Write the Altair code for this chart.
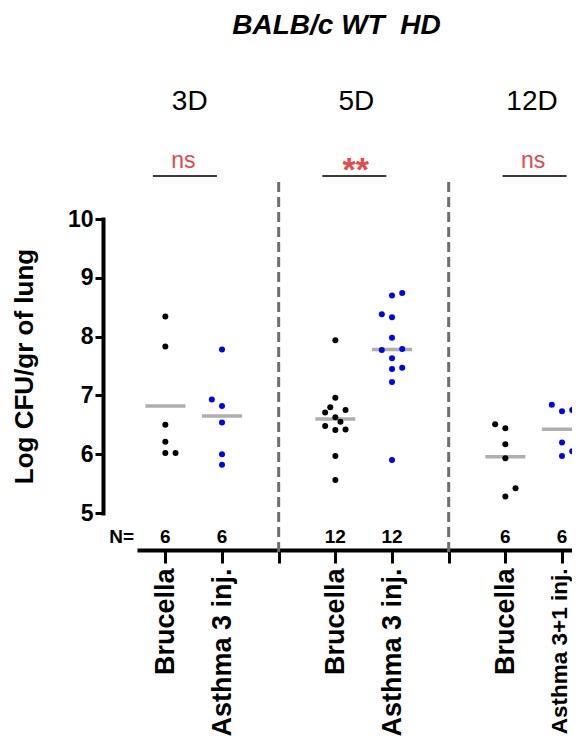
import altair as alt
import pandas as pd

# ---------------- data ----------------
days = ["3D", "5D", "12D"]
x_labels = ["Brucella", "Asthma 3 inj.", "Brucella", "Asthma 3 inj.", "Brucella", "Asthma 3+1 inj."]
kinds = ["Brucella", "Asthma", "Brucella", "Asthma", "Brucella", "Asthma"]
sig_text = ["ns", "**", "ns"]

b3_vals = [8.34, 7.83, 6.50, 6.21, 6.02, 6.02]
b3_jit = [0, 0, 0, 0, 0, 1]
a3_vals = [7.78, 6.93, 6.82, 6.54, 6.00, 5.82]
a3_jit = [0, -1, 0, 0, 0, 0]
b5_vals = [7.94, 6.96, 6.80, 6.75, 6.71, 6.63, 6.55, 6.48, 6.42, 6.41, 5.97, 5.56]
b5_jit = [0, 0, -0.5, 1, -1, 0, 0.5, -1, 1, 0, 0, 0]
a5_vals = [8.74, 8.70, 8.38, 8.33, 7.98, 7.77, 7.79, 7.63, 7.47, 7.45, 7.23, 5.90]
a5_jit = [1, 0, -1, 0, 0, -1, 1, 0, 1, 0, 0, 0]
b12_vals = [6.51, 6.44, 6.17, 5.93, 5.42, 5.28]
b12_jit = [-1, 0, 0, 0, 1, 0]
a12_vals = [6.84, 6.73, 6.75, 6.20, 6.05, 5.97]
a12_jit = [-1, 0, 1, 0, 1, 0]

series_vals = [b3_vals, a3_vals, b5_vals, a5_vals, b12_vals, a12_vals]
series_jit = [b3_jit, a3_jit, b5_jit, a5_jit, b12_jit, a12_jit]

# annotation anchors (data units)
day_label_x = [1.43, 4.37, 7.47]
sig_line_x = [0.78, 3.77, 6.95]
sig_line_x2 = [1.91, 4.90, 8.08]
sig_text_x = [1.32, 4.36, 7.49]

FONT = "Liberation Sans"
STEP = 0.18  # jitter step in x units

# ---------------- build tables ----------------
positions = [g * 3 + j + 1 for g in range(3) for j in range(2)]
rows = []
for i, (vals, jits) in enumerate(zip(series_vals, series_jit)):
    for v, jt in zip(vals, jits):
        rows.append({"base": positions[i], "x": positions[i] + jt * STEP,
                     "value": v, "kind": kinds[i]})
pts = pd.DataFrame(rows)

n_df = pd.DataFrame({"x": positions, "y": [4.59] * 6,
                     "n": [str(len(v)) for v in series_vals]})
nlab_df = pd.DataFrame({"x": [0.23], "y": [4.59], "t": ["N="]})
div_df = pd.DataFrame({"x": [3, 6], "y": [10.63, 10.63], "y2": [4.25, 4.25]})
day_df = pd.DataFrame({"x": day_label_x, "y": [11.85] * 3, "t": days})
sigl_df = pd.DataFrame({"x": sig_line_x, "x2": sig_line_x2, "y": [10.73] * 3})
ns_df = pd.DataFrame({"x": [sig_text_x[0], sig_text_x[2]], "y": [10.87, 10.87],
                      "t": [sig_text[0], sig_text[2]]})
star_df = pd.DataFrame({"x": [sig_text_x[1]], "y": [10.65], "t": [sig_text[1]]})
title_df = pd.DataFrame({"x": [4.02], "y": [13.15], "t": ["BALB/c WT \u00a0HD"]})

label_expr = " : ".join(
    [f"datum.value == {p} ? '{lab}'" for p, lab in zip(positions, x_labels)]) + " : ''"

xscale = alt.Scale(domain=[0.5, 8.176], nice=False, zero=False)
yscale = alt.Scale(domain=[5, 10], nice=False, zero=False)

x_axis = alt.Axis(values=[1, 2, 3, 4, 5, 6, 7, 8], labelExpr=label_expr,
                  labelAngle=270, labelAlign="right", labelBaseline="middle",
                  labelFont=FONT,
                  labelFontSize={"condition": {"test": "datum.value == 8", "value": 22.5},
                                 "value": 27},
                  labelOffset={"condition": {"test": "datum.value == 8", "value": -3},
                               "value": 0},
                  labelFontWeight="bold",
                  labelColor="black", labelPadding=5, labelLimit=400,
                  labelOverlap=False, labelFlush=False,
                  domainColor="black", domainWidth=4, tickColor="black",
                  tickWidth=3, tickSize=13, offset=37, grid=False, title=None)
y_axis = alt.Axis(values=[5, 6, 7, 8, 9, 10], format="d", labelFont=FONT,
                  labelFontSize=23, labelFontWeight="bold", labelColor="black",
                  labelPadding=2, domainColor="black", domainWidth=4,
                  domainCap="square", tickColor="black", tickWidth=3, tickSize=8,
                  offset=34, grid=False,
                  title="Log CFU/gr of lung", titleFont=FONT, titleFontSize=26,
                  titleFontWeight="bold", titleColor="black", titlePadding=30)

base = alt.Chart(pts)

means = base.transform_aggregate(
    m="mean(value)", groupby=["base"]
).mark_tick(orient="horizontal", size=40, thickness=3.5, color="#8c8c8c").encode(
    x=alt.X("base:Q", scale=xscale, axis=x_axis),
    y=alt.Y("m:Q", scale=yscale, axis=y_axis),
)

dots = base.mark_circle(size=36, opacity=1).encode(
    x=alt.X("x:Q", scale=xscale),
    y=alt.Y("value:Q", scale=yscale),
    color=alt.Color("kind:N", scale=alt.Scale(domain=["Brucella", "Asthma"],
                                              range=["#000000", "#0000ff"]), legend=None),
)

dividers = alt.Chart(div_df).mark_rule(color="#6e6e6e", strokeWidth=3,
                                       strokeDash=[10, 5]).encode(
    x="x:Q", y="y:Q", y2="y2:Q")

n_text = alt.Chart(n_df).mark_text(font=FONT, fontSize=19, fontWeight="bold",
                                   baseline="middle", color="black").encode(
    x="x:Q", y="y:Q", text="n:N")
n_lab = alt.Chart(nlab_df).mark_text(font=FONT, fontSize=19, fontWeight="bold",
                                     baseline="middle", color="black").encode(
    x="x:Q", y="y:Q", text="t:N")

day_text = alt.Chart(day_df).mark_text(font=FONT, fontSize=28, baseline="alphabetic",
                                       color="black").encode(
    x="x:Q", y="y:Q", text="t:N")

sig_lines = alt.Chart(sigl_df).mark_rule(color="#3a3a3a", strokeWidth=2).encode(
    x="x:Q", x2="x2:Q", y="y:Q")

ns_texts = alt.Chart(ns_df).mark_text(font=FONT, fontSize=23, baseline="alphabetic",
                                      color="#e8474c").encode(
    x="x:Q", y="y:Q", text="t:N")
star_text = alt.Chart(star_df).mark_text(font=FONT, fontSize=34, fontWeight="bold",
                                         baseline="alphabetic", color="#e8474c").encode(
    x="x:Q", y="y:Q", text="t:N")

title_text = alt.Chart(title_df).mark_text(font=FONT, fontSize=28, fontWeight="bold",
                                           fontStyle="italic", baseline="alphabetic",
                                           color="black").encode(
    x="x:Q", y="y:Q", text="t:N")

chart = alt.layer(
    dividers, means, dots, n_text, n_lab, day_text, sig_lines, ns_texts, star_text,
    title_text
).properties(
    width=435, height=294,
    autosize=alt.AutoSizeParams(type="none"),
    padding={"left": 129, "top": 211, "right": 0, "bottom": 223},
    background="white",
).configure_view(stroke=None)

chart.save("out.html", embed_options={"renderer": "svg", "actions": False})
